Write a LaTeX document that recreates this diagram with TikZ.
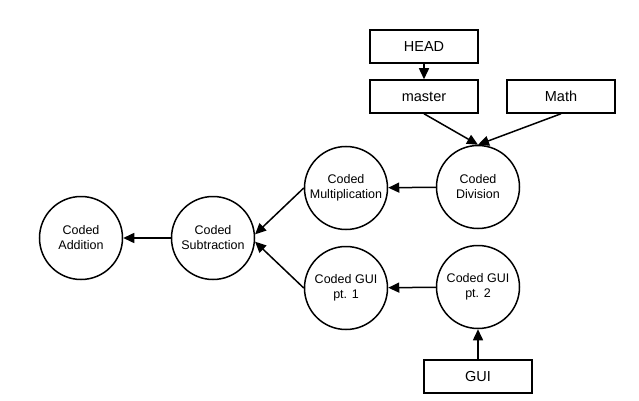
\documentclass[tikz,border=0pt]{standalone}
\usepackage{fontspec}
\setmainfont{Liberation Sans}
\usetikzlibrary{arrows.meta}
\begin{document}
\begin{tikzpicture}[x=1pt,y=-1pt,
  commit/.style={draw,circle,line width=1.5pt,minimum size=83pt,inner sep=0pt,align=center,font=\fontsize{12.5}{15}\selectfont},
  ref/.style={draw,rectangle,line width=1.5pt,minimum width=108pt,minimum height=33pt,inner sep=0pt,font=\fontsize{14.5}{17}\selectfont},
  conn/.style={line width=1.5pt,-{Triangle[length=11pt,width=10pt]}}]
\useasboundingbox (0,0) rectangle (639,401);
\node[commit] (add) at (81,238) {Coded\\Addition};
\node[commit] (sub) at (213,238) {Coded\\Subtraction};
\node[commit] (mul) at (346,188) {Coded\\Multiplication};
\node[commit] (gui1) at (346,288) {Coded GUI\\pt. 1};
\node[commit] (div) at (478,187) {Coded\\Division};
\node[commit] (gui2) at (478,287) {Coded GUI\\pt. 2};
\node[ref] (head) at (424,46.5) {HEAD};
\node[ref] (master) at (424,96.5) {master};
\node[ref] (math) at (561,96.5) {Math};
\node[ref] (gui) at (478,376.5) {GUI};
\draw[conn] (sub) -- (add);
\draw[conn] (mul.west) -- (sub.5);
\draw[conn] (gui1.west) -- (sub.-5);
\draw[conn] (div) -- (mul);
\draw[conn] (gui2) -- (gui1);
\draw[conn] (gui) -- (gui2);
\draw[conn] (head) -- (master);
\draw[conn] (master.south) -- (div.north);
\draw[conn] (math.south) -- (div.north);
\end{tikzpicture}
\end{document}
